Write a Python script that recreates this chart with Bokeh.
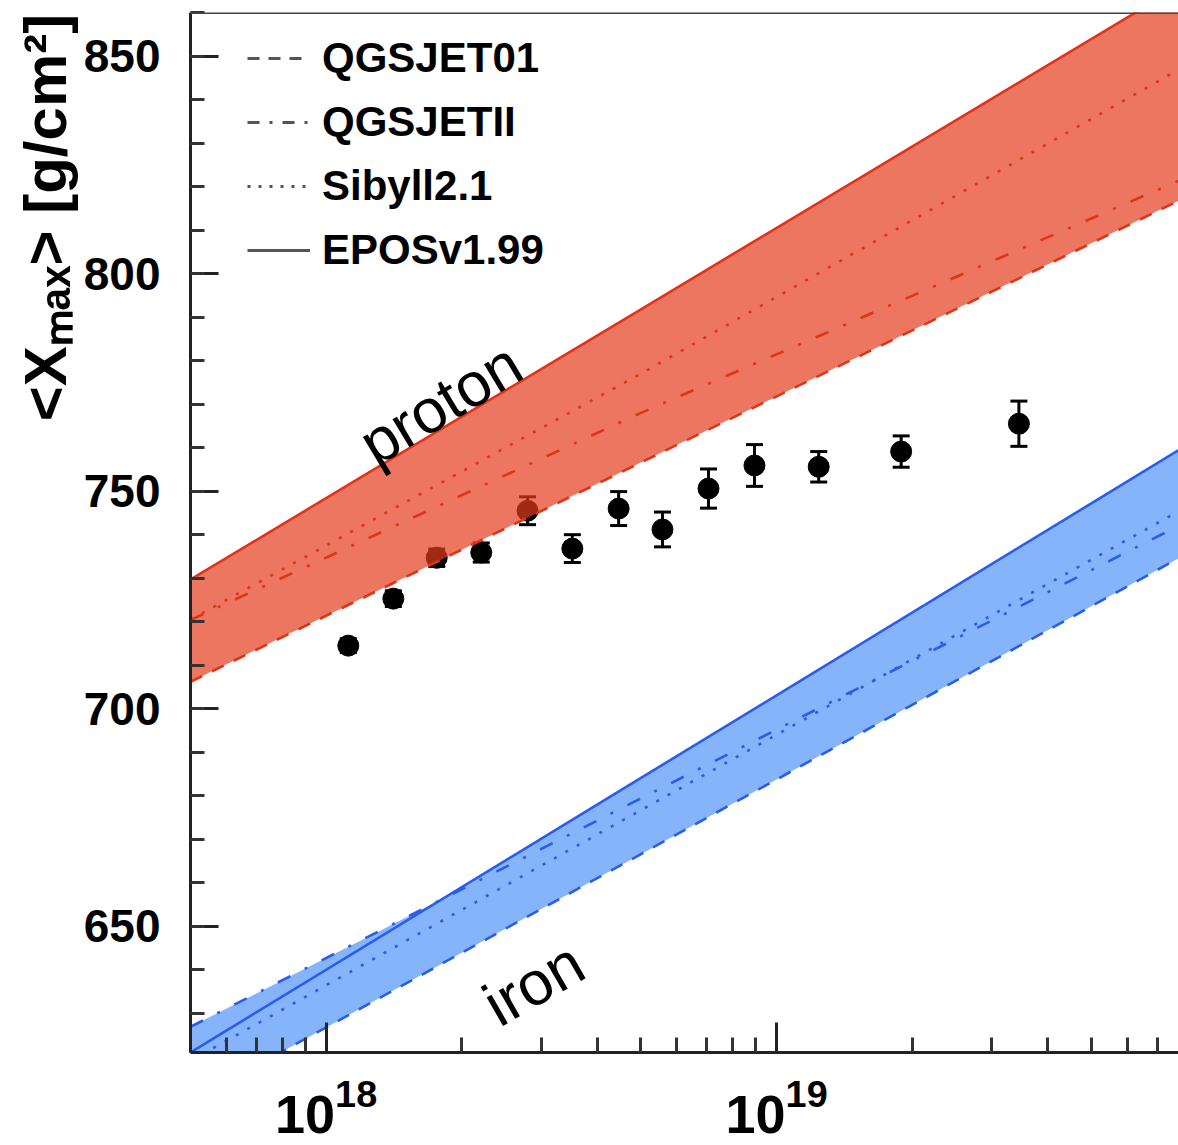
import math
import numpy as np
from bokeh.plotting import figure
from bokeh.models import (Range1d, Span, Label, Legend, LegendItem, FixedTicker,
                          SingleIntervalTicker, ColumnDataSource, LogTickFormatter)
from bokeh.embed import file_html
from bokeh.resources import INLINE

# ---------------- data ----------------
energy = [1.12e18, 1.41e18, 1.76e18, 2.21e18, 2.80e18, 3.52e18, 4.46e18,
          5.58e18, 7.06e18, 8.93e18, 1.24e19, 1.89e19, 3.45e19]
xmax = [714.5, 725.3, 734.7, 735.9, 745.5, 736.8, 746.0,
        741.2, 750.6, 755.9, 755.6, 759.1, 765.5]
xmax_err = [1.6, 1.8, 2.0, 2.2, 3.2, 3.2, 3.9, 4.0, 4.5, 4.8, 3.5, 3.6, 5.2]

model_energy = [5e17, 5e18, 8e19]
model_names = ["QGSJET01", "QGSJETII", "Sibyll2.1", "EPOSv1.99"]
proton_qgsjet01 = [706.2, 756.6, 817.3]
proton_qgsjetii = [720.4, 768.0, 821.8]
proton_sibyll = [720.5, 777.0, 847.5]
proton_epos = [729.7, 791.8, 866.6]
iron_qgsjet01 = [609.6, 666.6, 735.2]
iron_qgsjetii = [626.9, 679.4, 742.6]
iron_sibyll = [619.1, 676.7, 746.0]
iron_epos = [621.0, 684.1, 760.1]

y_ticks_step = 50
x_major_ticks = [1e18, 1e19]

# ---------------- geometry ----------------
W, H = 1178, 1145
BL, BR, BT, BB = 190, 0, 12, 93
X0, X1 = 5e17, 7.8e19
Y0, Y1 = 621.0, 860.0
FW, FH = W - BL - BR, H - BT - BB
lg0, lg1 = math.log10(X0), math.log10(X1)

def px2E(px):
    return 10 ** (lg0 + (px - BL) / FW * (lg1 - lg0))

def py2X(py):
    return Y1 - (py - BT) / FH * (Y1 - Y0)

p = figure(width=W, height=H, x_axis_type="log",
           x_range=Range1d(X0, X1), y_range=Range1d(Y0, Y1),
           output_backend="svg", toolbar_location=None,
           min_border_left=BL, min_border_right=BR,
           min_border_top=BT, min_border_bottom=BB)
p.outline_line_color = None
p.xgrid.visible = False
p.ygrid.visible = False
p.background_fill_color = "white"

# axes
for ax in (p.xaxis[0], p.yaxis[0]):
    ax.axis_line_width = 3
    ax.axis_line_color = "#222222"
    ax.major_tick_line_width = 3
    ax.minor_tick_line_width = 3
    ax.major_tick_line_color = "#222222"
    ax.minor_tick_line_color = "#333333"
    ax.major_tick_out = 0
    ax.minor_tick_out = 0

p.yaxis.ticker = SingleIntervalTicker(interval=y_ticks_step, num_minor_ticks=5)
p.yaxis.major_tick_in = 28
p.yaxis.minor_tick_in = 14
p.yaxis.major_label_text_font = "Liberation Sans"
p.yaxis.major_label_text_font_style = "bold"
p.yaxis.major_label_text_font_size = "46px"
p.yaxis.major_label_text_color = "black"
p.yaxis.major_label_standoff = 30
# leading em-spaces push the visible title toward the top of the axis
p.yaxis.axis_label = "\u2003" * 10 + "\u2002" + "<Xₘₐₓ> [g/cm²]"
p.yaxis.axis_label_text_font = "Liberation Sans"
p.yaxis.axis_label_text_font_style = "bold"
p.yaxis.axis_label_text_font_size = "60px"
p.yaxis.axis_label_text_color = "black"
p.yaxis.axis_label_standoff = 2

minor = [m * 10 ** k for k in (17, 18, 19) for m in range(2, 10)]
p.xaxis.ticker = FixedTicker(ticks=x_major_ticks, minor_ticks=minor)
p.xaxis.formatter = LogTickFormatter(min_exponent=0)
p.xaxis.major_tick_in = 30
p.xaxis.minor_tick_in = 15
p.xaxis.major_label_text_font = "Liberation Sans"
p.xaxis.major_label_text_font_style = "bold"
p.xaxis.major_label_text_font_size = "54px"
p.xaxis.major_label_text_color = "black"
p.xaxis.major_label_standoff = 26

p.add_layout(Span(location=Y1, dimension="width", line_color="#444444", line_width=3))

# data points with error bars
src = ColumnDataSource(dict(x=energy, y=xmax,
                            lo=[v - e for v, e in zip(xmax, xmax_err)],
                            hi=[v + e for v, e in zip(xmax, xmax_err)]))
p.segment(x0="x", y0="lo", x1="x", y1="hi", source=src, line_color="black", line_width=3)
p.scatter(x="x", y="lo", source=src, marker="dash", size=17, line_color="black", line_width=3)
p.scatter(x="x", y="hi", source=src, marker="dash", size=17, line_color="black", line_width=3)
p.scatter(x="x", y="y", source=src, marker="circle", size=21, fill_color="black", line_color="black")

dashes = {"QGSJET01": "13 11", "QGSJETII": "14 16 3 16", "Sibyll2.1": "3 10", "EPOSv1.99": "solid"}

def band(models, fill, line):
    lg = np.linspace(lg0, lg1, 400)
    lme = np.log10(model_energy)
    vals = np.array([np.interp(lg, lme, m) for m in models])
    p.varea(x=10 ** lg, y1=vals.min(axis=0), y2=vals.max(axis=0),
            fill_color=fill, fill_alpha=0.7)
    for name, m in zip(model_names, models):
        p.line(model_energy, m, line_color=line, line_width=2.6,
               line_dash=dashes[name])

band([proton_qgsjet01, proton_qgsjetii, proton_sibyll, proton_epos], "#E63C1E", "#E03418")
band([iron_qgsjet01, iron_qgsjetii, iron_sibyll, iron_epos], "#5394F8", "#2A5CEE")

# legend with gray samples (dummy renderers lying outside the visible range)
legend_dash = {"QGSJET01": "12 9", "QGSJETII": "12 10 3 10", "Sibyll2.1": "3 8", "EPOSv1.99": "solid"}
items = []
for name in model_names:
    r = p.line(x=[X0, X1], y=[Y0 - 100, Y0 - 100], line_color="#555555",
               line_width=3, line_dash=legend_dash[name])
    items.append(LegendItem(label=name, renderers=[r]))
legend = Legend(items=items, location=(57, 777), orientation="vertical",
                label_text_font="Liberation Sans", label_text_font_style="bold",
                label_text_font_size="42px", label_text_color="black",
                glyph_width=63, glyph_height=50, label_height=50,
                label_standoff=12, spacing=14, padding=0, margin=0,
                background_fill_alpha=0, border_line_color=None)
p.add_layout(legend)

# band labels
p.add_layout(Label(x=px2E(440), y=py2X(403), text="proton", angle=math.radians(31),
                   text_align="center", text_baseline="middle",
                   text_font="Liberation Sans", text_font_size="62px", text_color="black"))
p.add_layout(Label(x=px2E(533), y=py2X(983), text="iron", angle=math.radians(30),
                   text_align="center", text_baseline="middle",
                   text_font="Liberation Sans", text_font_size="62px", text_color="black"))

open("out.html", "w").write(file_html(p, INLINE))
